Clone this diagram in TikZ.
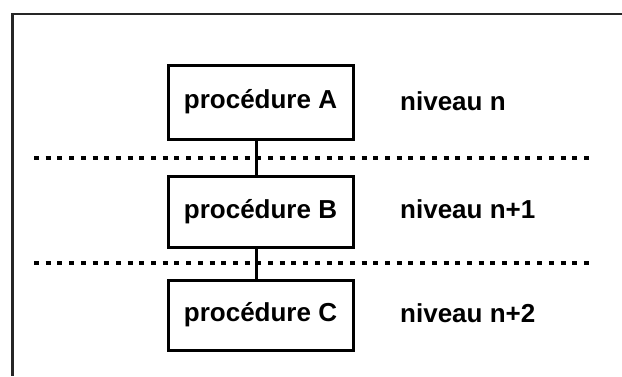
\documentclass[tikz,border=0pt]{standalone}
\usepackage{fontspec}
\setmainfont{Liberation Sans}
\begin{document}
\begin{tikzpicture}[x=1pt,y=-1pt,
  procbox/.style={draw=black, line width=3pt, minimum width=185pt, inner sep=0pt,
    font=\fontsize{26}{31}\selectfont\bfseries},
  lvl/.style={anchor=base west, inner sep=0pt, font=\fontsize{26}{31}\selectfont\bfseries},
  sepline/.style={line width=3.8pt, dash pattern=on 5pt off 6.7pt},
  link/.style={line width=3pt},
  frameline/.style={line width=2.6pt, color=black!85}]
\useasboundingbox (0,0) rectangle (622,376);
% frame
\coordinate (f1) at (622,14);
\coordinate (f0) at (12.5,14);
\coordinate (f2) at (12.5,376);
\draw[frameline] (f1) -- (f0) -- (f2);
% boxes
\node[procbox, minimum height=74pt] (A) at (260.5,102) {procédure A};
\node[procbox, minimum height=71pt] (B) at (260.5,211.5) {procédure B};
\node[procbox, minimum height=70pt] (C) at (260.5,315) {procédure C};
% connectors
\draw[link] ([xshift=-4pt]A.south) -- ([xshift=-4pt]B.north);
\draw[link] ([xshift=-4pt]B.south) -- ([xshift=-4pt]C.north);
% dotted separators
\coordinate (s1a) at (34,158);
\coordinate (s1b) at (594,158);
\coordinate (s2a) at (34,263);
\coordinate (s2b) at (594,263);
\draw[sepline] (s1a) -- (s1b);
\draw[sepline] (s2a) -- (s2b);
% labels
\node[lvl] (ln) at (400,110) {niveau n};
\node[lvl] (ln1) at (400,218) {niveau n+1};
\node[lvl] (ln2) at (400,322) {niveau n+2};
\end{tikzpicture}
\end{document}
